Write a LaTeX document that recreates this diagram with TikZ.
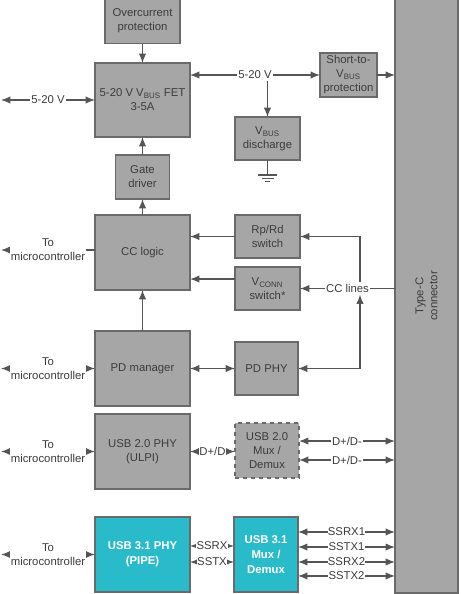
\documentclass[tikz,border=0pt]{standalone}
\usepackage{fontspec}
\setmainfont{Liberation Sans}
\usetikzlibrary{arrows.meta}
\definecolor{boxgray}{HTML}{A6A6A6}
\definecolor{edgegray}{HTML}{6A6A6A}
\definecolor{linegray}{HTML}{555555}
\definecolor{txtgray}{HTML}{3C3C3C}
\definecolor{usbcyan}{HTML}{2ABBCB}
\tikzset{
  blk/.style 2 args={draw=edgegray, fill=boxgray, line width=0.8pt, text=txtgray,
    align=center, inner sep=0pt, outer sep=0pt,
    minimum width=#1*0.75pt, minimum height=#2*0.75pt},
  usb/.style={fill=usbcyan, text=white, font=\fontsize{8.5}{11}\selectfont\bfseries},
  lbl/.style={fill=white, text=txtgray, inner sep=1pt, align=center},
  ar/.style={color=linegray, line width=0.9pt, -{Latex[length=7pt,width=5.5pt]}},
  dar/.style={color=linegray, line width=0.9pt, {Latex[length=7pt,width=5.5pt]}-{Latex[length=7pt,width=5.5pt]}},
  wire/.style={color=linegray, line width=0.9pt}
}
\begin{document}
\begin{tikzpicture}[x=0.75pt, y=-0.75pt, font=\fontsize{8.5}{10.5}\selectfont]
\useasboundingbox (0,0) rectangle (461,594);

% connector
\node[blk={63}{594}] (conn) at (426.5,296) {};
\node[rotate=90, text=txtgray, align=center] (tcl) at (conn) {Type-C\\connector};

% power path
\node[blk={75}{45}] (ovc) at (142.5,21) {Overcurrent\\protection};
\node[blk={95}{74}] (fet) at (142.5,100) {5-20 V V\textsubscript{BUS} FET\\3-5A};
\node[blk={54}{44}] (gate) at (142.5,177) {Gate\\driver};
\node[blk={57}{44}] (short) at (348.5,75) {Short-to-\\V\textsubscript{BUS}\\protection};
\node[blk={65}{43}] (dis) at (267.5,138.5) {V\textsubscript{BUS}\\discharge};

% CC / PD
\node[blk={95}{75}] (cc) at (142.5,252.5) {CC logic};
\node[blk={65}{43}] (rprd) at (267.5,236.5) {Rp/Rd\\switch};
\node[blk={65}{43}] (vconn) at (267.5,288.5) {V\textsubscript{CONN}\\switch*};
\node[blk={95}{75}] (pdm) at (142.5,368.5) {PD manager};
\node[blk={63}{53}] (pdphy) at (266.5,368.5) {PD PHY};

% USB data
\node[blk={95}{75}] (u2phy) at (142.5,451.5) {USB 2.0 PHY\\(ULPI)};
\node[blk={64}{55}, dashed] (u2mux) at (267,450.5) {USB 2.0\\Mux /\\Demux};
\node[blk={95}{75}, usb] (u3phy) at (142.5,554.5) {USB 3.1 PHY\\(PIPE)};
\node[blk={64}{75}, usb] (u3mux) at (266,554.5) {USB 3.1\\Mux /\\Demux};

% free ends on the left
\coordinate (pin) at (1,100);
\coordinate (mc1) at (1,250);
\coordinate (mc2) at (1,368.5);
\coordinate (mc3) at (1,451.5);
\coordinate (mc4) at (1,554.5);

% power arrows
\draw[dar] (pin) -- node[lbl]{5-20 V} (fet.west);
\draw[ar] (ovc) -- (fet);
\draw[ar] (gate) -- (fet);
\draw[dar] (fet.east |- short.west) -- node[lbl](v20){5-20 V} (short.west);
\draw[ar] (v20.south -| dis.north) -- (dis.north);
\draw[ar] (short.east) -- (short.east -| conn.west);
\draw[wire] (dis.south) -- ++(0,15) coordinate (gnd);
\draw[wire] ([xshift=-7pt]gnd) -- ([xshift=7pt]gnd)
  ([xshift=-4.5pt,yshift=-2.5pt]gnd) -- ([xshift=4.5pt,yshift=-2.5pt]gnd)
  ([xshift=-2pt,yshift=-5pt]gnd) -- ([xshift=2pt,yshift=-5pt]gnd);

% CC arrows
\draw[ar] (cc) -- (gate);
\draw[ar] (pdm) -- (cc);
\draw[ar] (cc.west |- mc1) -- node[lbl]{To\\microcontroller} (mc1);
\draw[ar] (rprd.west) -- (rprd.west -| cc.east);
\draw[ar] ([yshift=7.1pt]vconn.west) -- ([yshift=7.1pt]vconn.west -| cc.east);
\draw[ar] (conn.west |- vconn.east) -- node[lbl](ccl){CC lines} (vconn.east);
\coordinate (ccx) at (360,288);
\draw[ar] (ccl.north -| ccx) |- (rprd.east);
\draw[dar] (ccl.south -| ccx) |- (pdphy.east);
\draw[dar] (mc2) -- node[lbl]{To\\microcontroller} (pdm.west);
\draw[dar] (pdm) -- (pdphy);

% USB 2.0
\draw[dar] (mc3) -- node[lbl]{To\\microcontroller} (u2phy.west);
\draw[dar] (u2phy.east |- mc3) -- node[lbl, inner sep=0.3pt]{D+/D} (u2mux.west |- mc3);
\draw[dar] ([yshift=7.1pt]u2mux.east) -- node[lbl]{D+/D-} ([yshift=7.1pt]u2mux.east -| conn.west);
\draw[dar] ([yshift=-7.1pt]u2mux.east) -- node[lbl]{D+/D-} ([yshift=-7.1pt]u2mux.east -| conn.west);

% USB 3.1
\draw[dar] (mc4) -- node[lbl]{To\\microcontroller} (u3phy.west);
\draw[dar] ([yshift=6.4pt]u3phy.east) -- node[lbl, inner sep=0.3pt]{SSRX} ([yshift=6.4pt]u3mux.west);
\draw[dar] ([yshift=-5.6pt]u3phy.east) -- node[lbl, inner sep=0.3pt]{SSTX} ([yshift=-5.6pt]u3mux.west);
\draw[dar] ([yshift=16.9pt]u3mux.east) -- node[lbl, inner sep=0.3pt]{SSRX1} ([yshift=16.9pt]u3mux.east -| conn.west);
\draw[dar] ([yshift=5.6pt]u3mux.east) -- node[lbl, inner sep=0.3pt]{SSTX1} ([yshift=5.6pt]u3mux.east -| conn.west);
\draw[dar] ([yshift=-5.6pt]u3mux.east) -- node[lbl, inner sep=0.3pt]{SSRX2} ([yshift=-5.6pt]u3mux.east -| conn.west);
\draw[dar] ([yshift=-16.1pt]u3mux.east) -- node[lbl, inner sep=0.3pt]{SSTX2} ([yshift=-16.1pt]u3mux.east -| conn.west);
\end{tikzpicture}
\end{document}
